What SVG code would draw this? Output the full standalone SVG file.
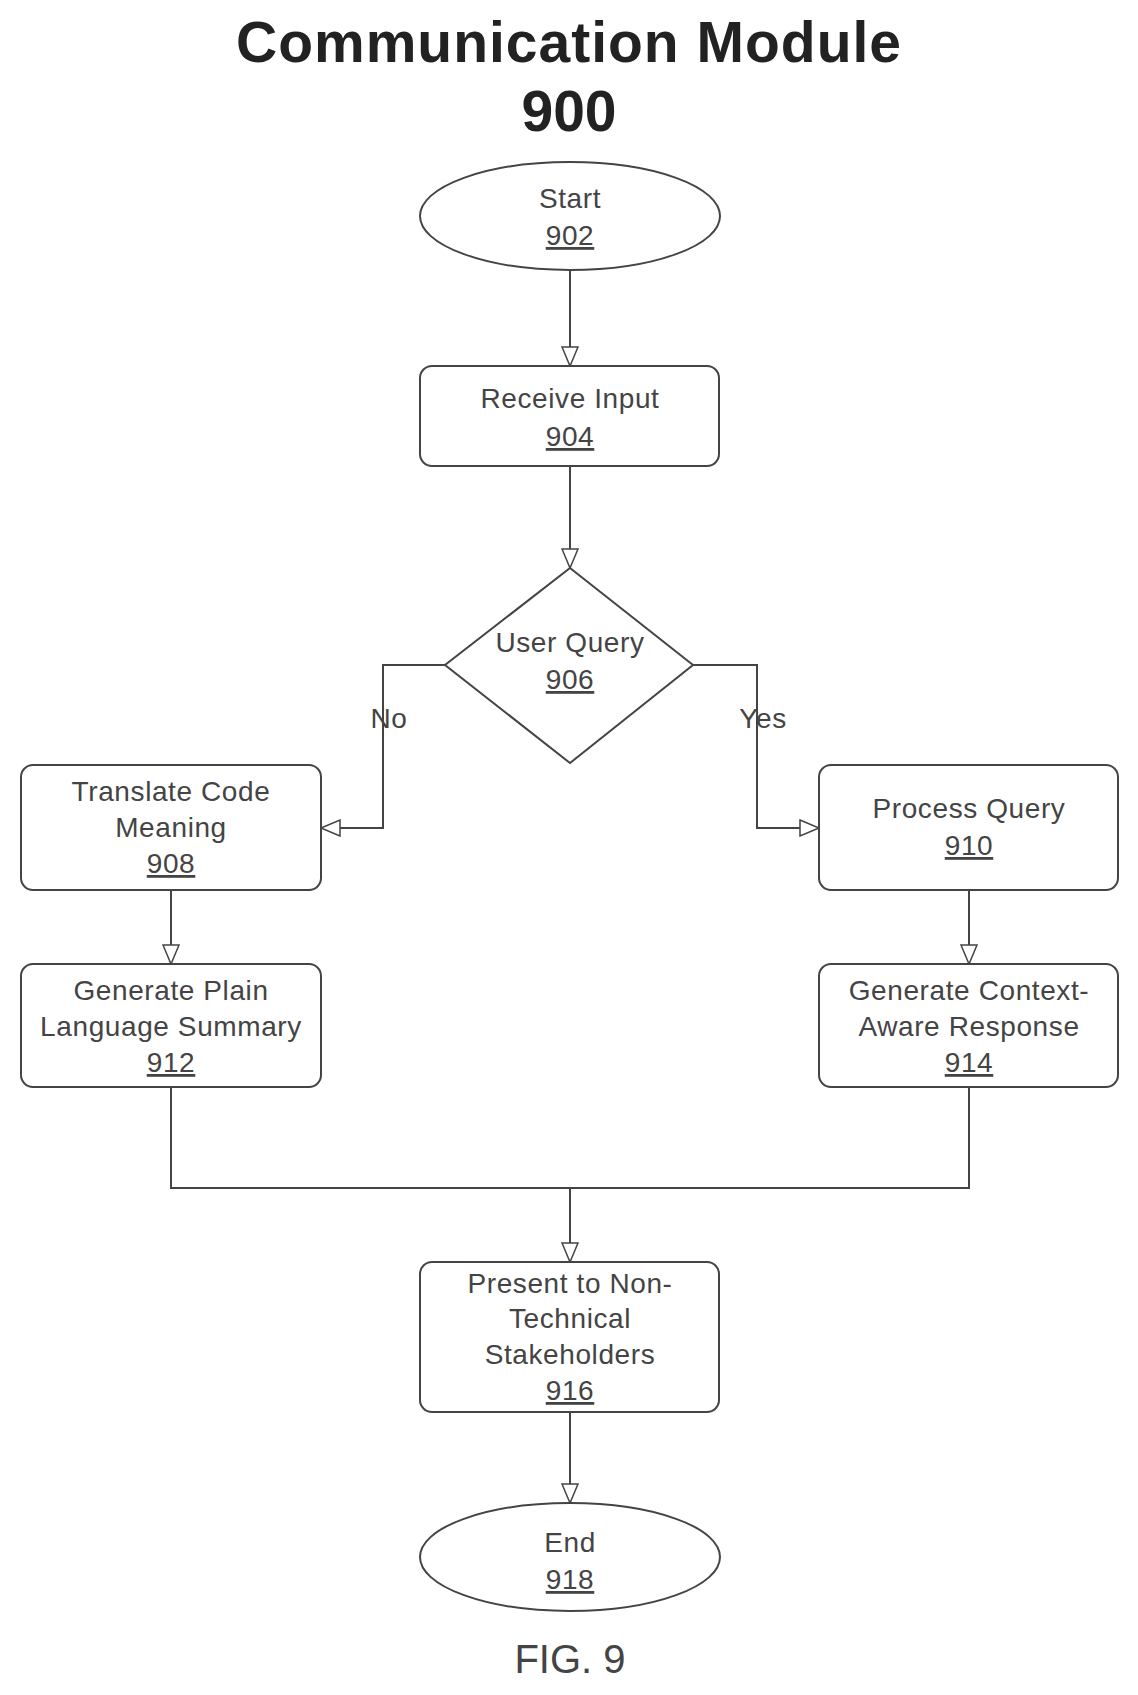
<svg xmlns="http://www.w3.org/2000/svg" width="1138" height="1695" viewBox="0 0 1138 1695">
<style>
.s{fill:#fff;stroke:#444;stroke-width:2}
.t{font-family:"Liberation Sans",Arial,sans-serif;font-size:28px;letter-spacing:0.6px;fill:#444;text-anchor:middle}
.n{text-decoration:underline}
.c{fill:none;stroke:#444;stroke-width:2}
</style>
<defs><marker id="a" markerWidth="22" markerHeight="18" refX="20" refY="9" orient="auto" markerUnits="userSpaceOnUse"><path d="M1,1 L20,9 L1,17 Z" fill="#fff" stroke="#444" stroke-width="1.5"/></marker></defs>
<rect width="1138" height="1695" fill="#fff"/>
<text x="569" y="62" font-family="Liberation Sans,Arial,sans-serif" font-size="57" font-weight="bold" letter-spacing="1" text-anchor="middle" fill="#222">Communication Module</text>
<text x="569" y="131" font-family="Liberation Sans,Arial,sans-serif" font-size="57" font-weight="bold" text-anchor="middle" fill="#222">900</text>
<g id="connectors">
<path class="c" d="M570,270 V366" marker-end="url(#a)"/>
<path class="c" d="M570,466 V568" marker-end="url(#a)"/>
<path class="c" d="M445,665 H383 V828 H321" marker-end="url(#a)"/>
<path class="c" d="M693,665 H757 V828 H819" marker-end="url(#a)"/>
<path class="c" d="M171,890 V964" marker-end="url(#a)"/>
<path class="c" d="M969,890 V964" marker-end="url(#a)"/>
<path class="c" d="M171,1087 V1188 H969 V1087"/>
<path class="c" d="M570,1188 V1262" marker-end="url(#a)"/>
<path class="c" d="M570,1412 V1503" marker-end="url(#a)"/>
<text class="t" x="389" y="728">No</text>
<text class="t" x="763" y="728">Yes</text>
</g>
<g id="n902"><ellipse class="s" cx="570" cy="216" rx="150" ry="54"/><text class="t" x="570" y="208">Start</text><text class="t n" x="570" y="245">902</text></g>
<g id="n904"><rect class="s" x="420" y="366" width="299" height="100" rx="12"/><text class="t" x="570" y="408">Receive Input</text><text class="t n" x="570" y="446">904</text></g>
<g id="n906"><path class="s" d="M570,568 L693,665 L570,763 L445,665 Z"/><text class="t" x="570" y="652">User Query</text><text class="t n" x="570" y="689">906</text></g>
<g id="n908"><rect class="s" x="21" y="765" width="300" height="125" rx="12"/><text class="t" x="171" y="801">Translate Code</text><text class="t" x="171" y="837">Meaning</text><text class="t n" x="171" y="873">908</text></g>
<g id="n910"><rect class="s" x="819" y="765" width="299" height="125" rx="12"/><text class="t" x="969" y="818">Process Query</text><text class="t n" x="969" y="855">910</text></g>
<g id="n912"><rect class="s" x="21" y="964" width="300" height="123" rx="12"/><text class="t" x="171" y="1000">Generate Plain</text><text class="t" x="171" y="1036">Language Summary</text><text class="t n" x="171" y="1072">912</text></g>
<g id="n914"><rect class="s" x="819" y="964" width="299" height="123" rx="12"/><text class="t" x="969" y="1000">Generate Context-</text><text class="t" x="969" y="1036">Aware Response</text><text class="t n" x="969" y="1072">914</text></g>
<g id="n916"><rect class="s" x="420" y="1262" width="299" height="150" rx="12"/><text class="t" x="570" y="1293">Present to Non-</text><text class="t" x="570" y="1328">Technical</text><text class="t" x="570" y="1364">Stakeholders</text><text class="t n" x="570" y="1400">916</text></g>
<g id="n918"><ellipse class="s" cx="570" cy="1557" rx="150" ry="54"/><text class="t" x="570" y="1552">End</text><text class="t n" x="570" y="1589">918</text></g>
<text x="570" y="1673" font-family="Liberation Sans,Arial,sans-serif" font-size="40" text-anchor="middle" fill="#444">FIG. 9</text>
</svg>
